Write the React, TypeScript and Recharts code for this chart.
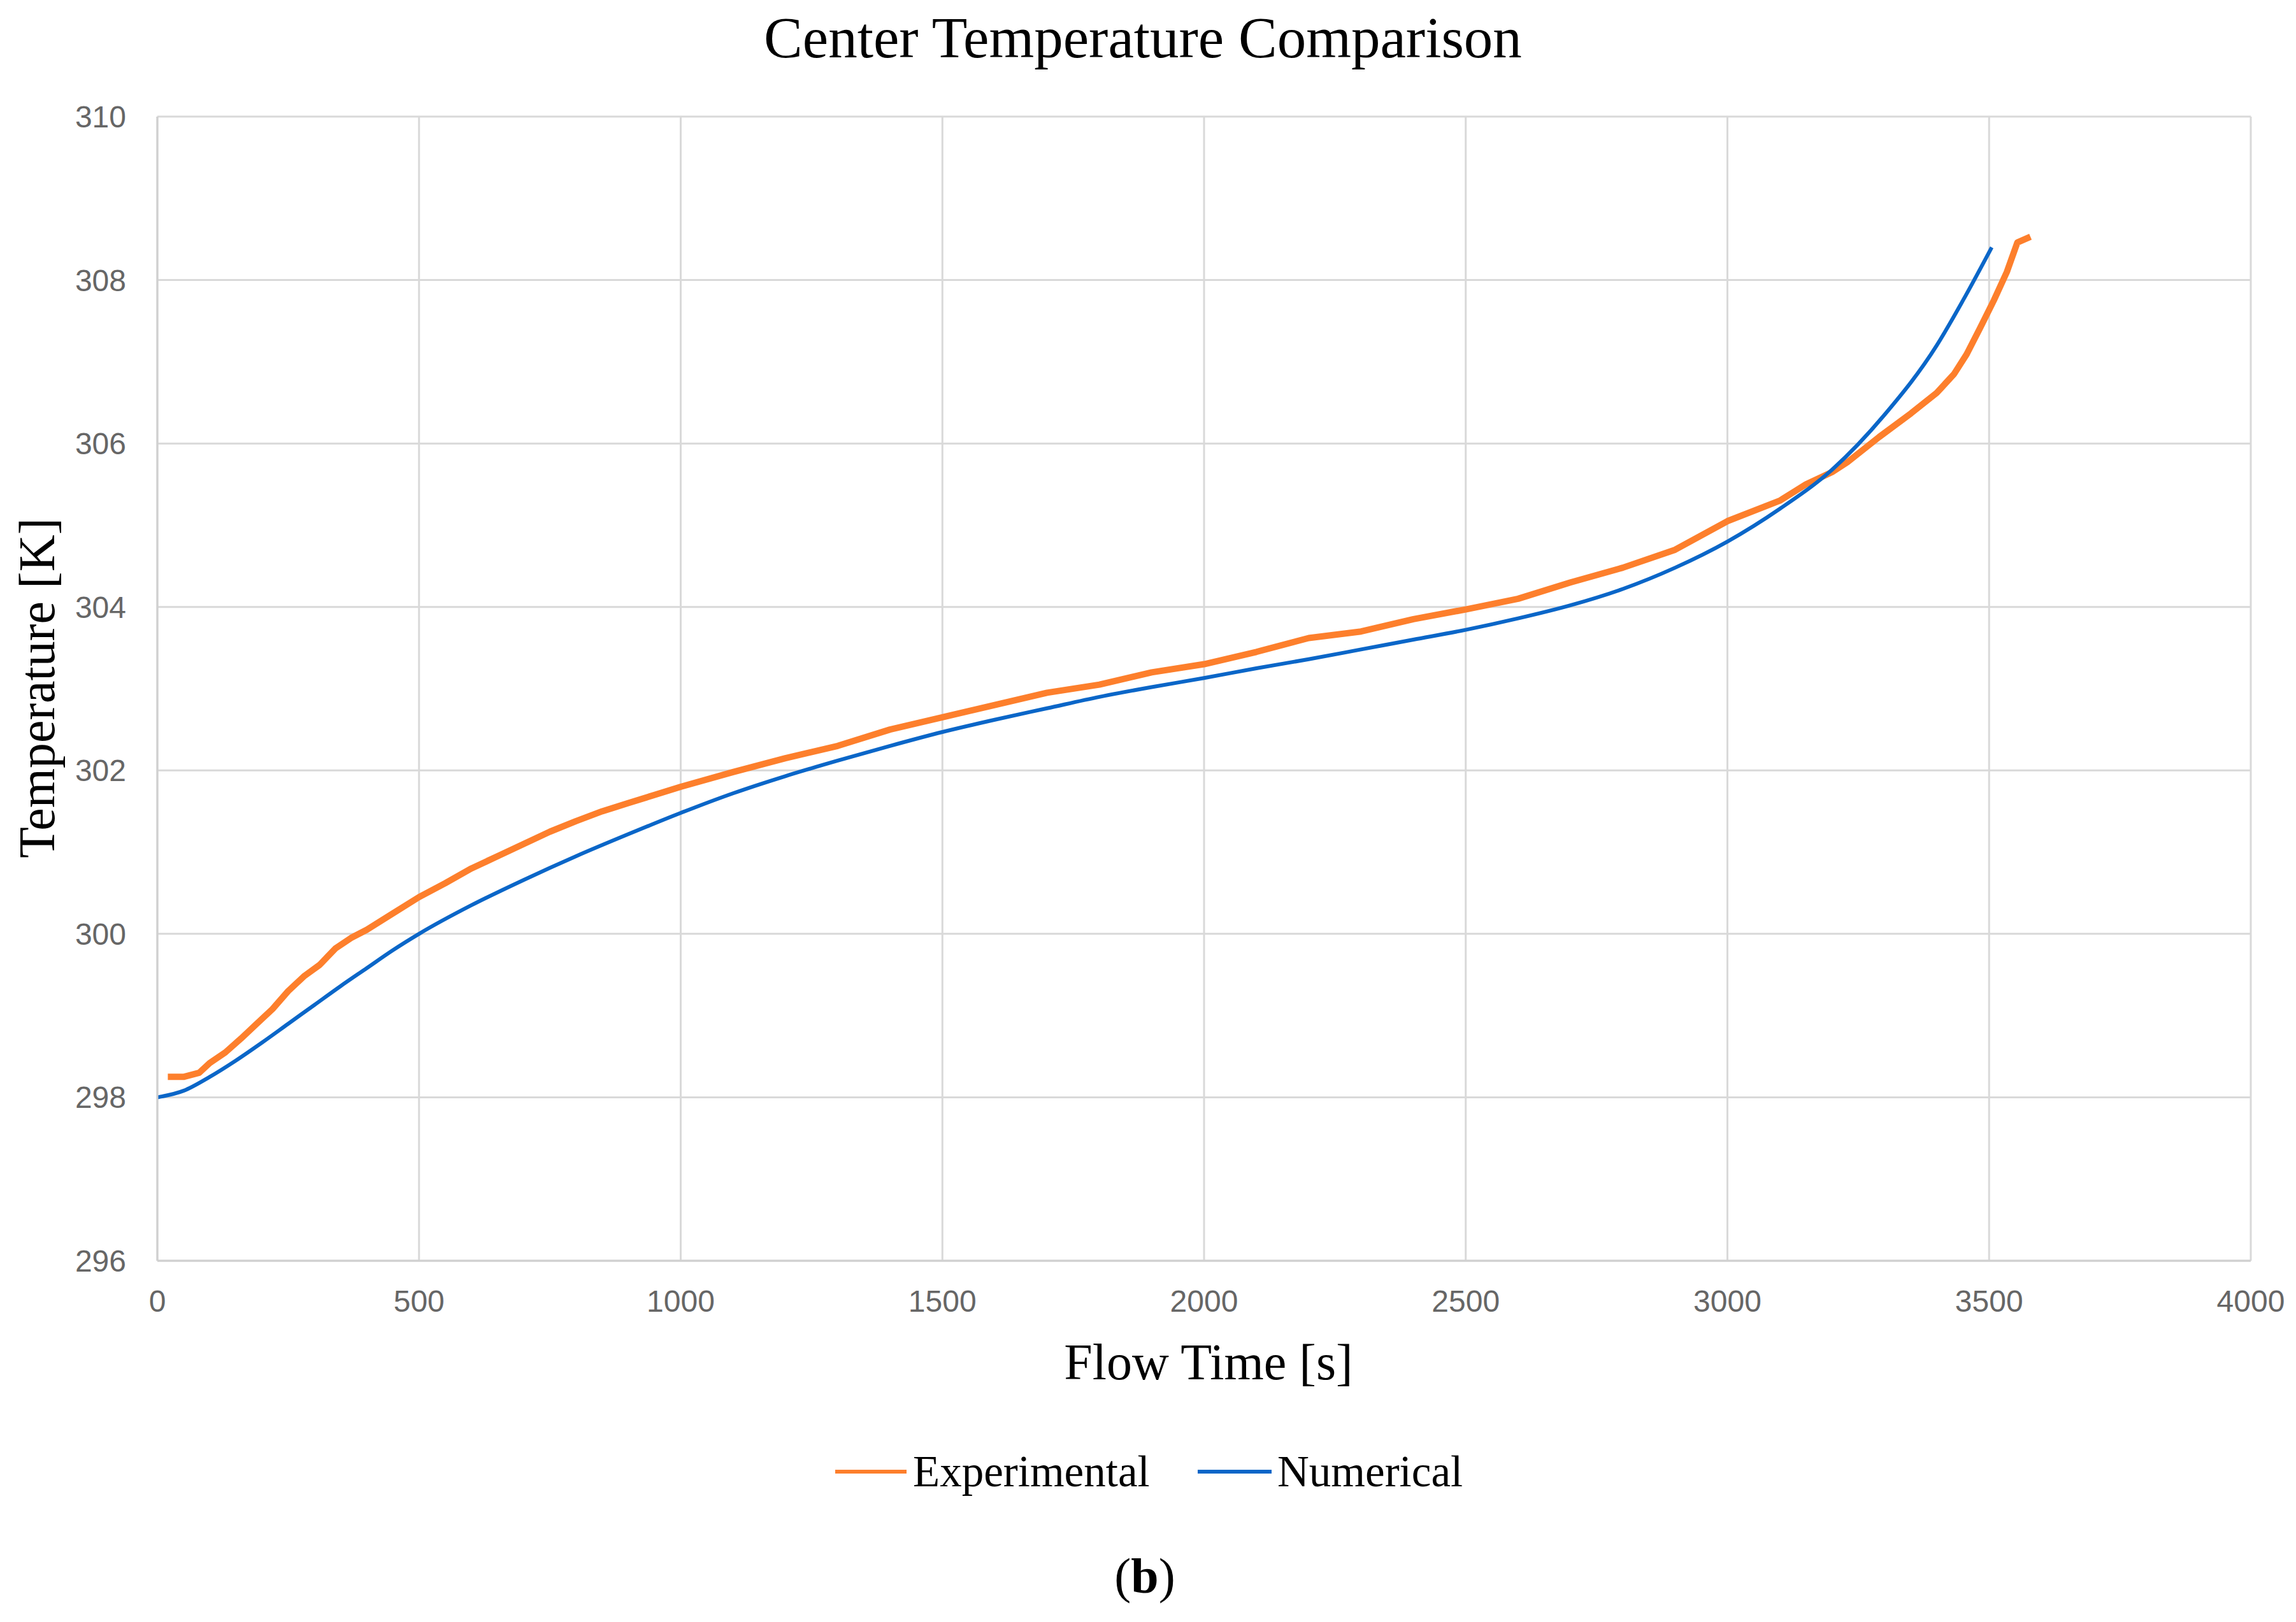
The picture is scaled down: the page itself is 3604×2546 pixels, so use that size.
import React from 'react';
import { LineChart, Line, XAxis, YAxis, CartesianGrid, Legend } from 'recharts';

// Experimental series (time [s], temperature [K])
const expTime = [20, 50, 80, 100, 130, 160, 190, 220, 250, 280, 310, 340, 370, 400, 450, 500, 550, 600, 650, 700, 750, 800, 850, 900, 950, 1000, 1100, 1200, 1300, 1400, 1500, 1600, 1700, 1800, 1900, 2000, 2100, 2200, 2300, 2400, 2500, 2600, 2700, 2800, 2900, 3000, 3100, 3150, 3200, 3229, 3290, 3351, 3400, 3433, 3457, 3481, 3509, 3534, 3554, 3579];
const expTemp = [298.25, 298.25, 298.3, 298.42, 298.55, 298.72, 298.9, 299.08, 299.3, 299.48, 299.62, 299.82, 299.95, 300.05, 300.25, 300.45, 300.62, 300.8, 300.95, 301.1, 301.25, 301.38, 301.5, 301.6, 301.7, 301.8, 301.98, 302.15, 302.3, 302.5, 302.65, 302.8, 302.95, 303.05, 303.2, 303.3, 303.45, 303.62, 303.7, 303.85, 303.97, 304.1, 304.3, 304.48, 304.7, 305.05, 305.3, 305.5, 305.65, 305.77, 306.08, 306.37, 306.62, 306.85, 307.09, 307.39, 307.75, 308.1, 308.46, 308.53];

// Numerical series (time [s], temperature [K])
const numTime = [0, 50, 100, 150, 200, 250, 300, 350, 400, 450, 500, 600, 700, 800, 900, 1000, 1100, 1200, 1300, 1400, 1500, 1600, 1700, 1800, 1900, 2000, 2100, 2200, 2300, 2400, 2500, 2600, 2700, 2800, 2900, 3000, 3100, 3200, 3300, 3400, 3450, 3505];
const numTemp = [298.0, 298.08, 298.25, 298.45, 298.67, 298.9, 299.13, 299.36, 299.58, 299.8, 300.0, 300.35, 300.66, 300.95, 301.22, 301.48, 301.72, 301.93, 302.12, 302.3, 302.47, 302.62, 302.76, 302.9, 303.02, 303.13, 303.25, 303.36, 303.48, 303.6, 303.72, 303.86, 304.02, 304.22, 304.48, 304.8, 305.2, 305.68, 306.35, 307.2, 307.75, 308.4];

const xTicks = [0, 500, 1000, 1500, 2000, 2500, 3000, 3500, 4000];
const yTicks = [296, 298, 300, 302, 304, 306, 308, 310];

const seriesNames = ['Experimental', 'Numerical'];
const seriesColors = ['#FD7F2C', '#0A66C8'];

const expData = expTime.map((t, i) => ({ t, T: expTemp[i] }));
const numData = numTime.map((t, i) => ({ t, T: numTemp[i] }));

const W = 3588;
const H = 2530;

const serif = '"Liberation Serif", "Times New Roman", serif';
const sans = '"Liberation Sans", Arial, sans-serif';

const LegendContent = () => (
  <svg width={W} height={160} style={{ display: 'block' }}>
    <line x1={1303} x2={1415} y1={102} y2={102} stroke={seriesColors[0]} strokeWidth={6} />
    <text x={1425} y={125} fontFamily={serif} fontSize={69} fill="#000">{seriesNames[0]}</text>
    <line x1={1872} x2={1988} y1={102} y2={102} stroke={seriesColors[1]} strokeWidth={6} />
    <text x={1997} y={125} fontFamily={serif} fontSize={69} fill="#000">{seriesNames[1]}</text>
  </svg>
);

export default function App() {
  return (
    <div style={{ position: 'relative', width: W, height: H, background: '#fff' }}>
      <LineChart width={W} height={H} margin={{ top: 175, right: 63, bottom: 459, left: 0 }}>
        <CartesianGrid stroke="#d9d9d9" strokeWidth={3} horizontal vertical />
        <XAxis
          type="number"
          dataKey="t"
          domain={[0, 4000]}
          ticks={xTicks}
          allowDataOverflow
          height={100}
          axisLine={{ stroke: '#d0d0d0', strokeWidth: 3 }}
          tickLine={false}
          tickSize={6}
          tickMargin={40}
          tick={{ fontFamily: sans, fontSize: 48, fill: '#666' }}
        />
        <YAxis
          type="number"
          domain={[296, 310]}
          ticks={yTicks}
          allowDataOverflow
          width={239}
          axisLine={{ stroke: '#d0d0d0', strokeWidth: 3 }}
          tickLine={false}
          tickSize={6}
          tickMargin={43}
          tick={{ fontFamily: sans, fontSize: 48, fill: '#666' }}
        />
        <Legend
          layout="horizontal"
          verticalAlign="middle"
          align="center"
          wrapperStyle={{ position: 'absolute', top: 2200, left: 0, width: W, height: 160 }}
          content={() => <LegendContent />}
        />
        <Line
          data={expData}
          dataKey="T"
          name={seriesNames[0]}
          type="linear"
          stroke={seriesColors[0]}
          strokeWidth={10}
          strokeLinejoin="round"
          dot={false}
          activeDot={false}
          isAnimationActive={false}
        />
        <Line
          data={numData}
          dataKey="T"
          name={seriesNames[1]}
          type="monotone"
          stroke={seriesColors[1]}
          strokeWidth={6}
          dot={false}
          activeDot={false}
          isAnimationActive={false}
        />
      </LineChart>
      <svg width={W} height={H} style={{ position: 'absolute', left: 0, top: 0, pointerEvents: 'none' }}>
        <text x={1786} y={82} textAnchor="middle" fontFamily={serif} fontSize={91} fill="#000">
          Center Temperature Comparison
        </text>
        <text x={1889} y={2157} textAnchor="middle" fontFamily={serif} fontSize={80} fill="#000">
          Flow Time [s]
        </text>
        <text
          x={77}
          y={1072}
          textAnchor="middle"
          fontFamily={serif}
          fontSize={80}
          fill="#000"
          transform="rotate(-90 77 1072)"
        >
          Temperature [K]
        </text>
        <text x={1789} y={2492} textAnchor="middle" fontFamily={serif} fontSize={78} fill="#000">
          (<tspan fontWeight="bold">b</tspan>)
        </text>
      </svg>
    </div>
  );
}
